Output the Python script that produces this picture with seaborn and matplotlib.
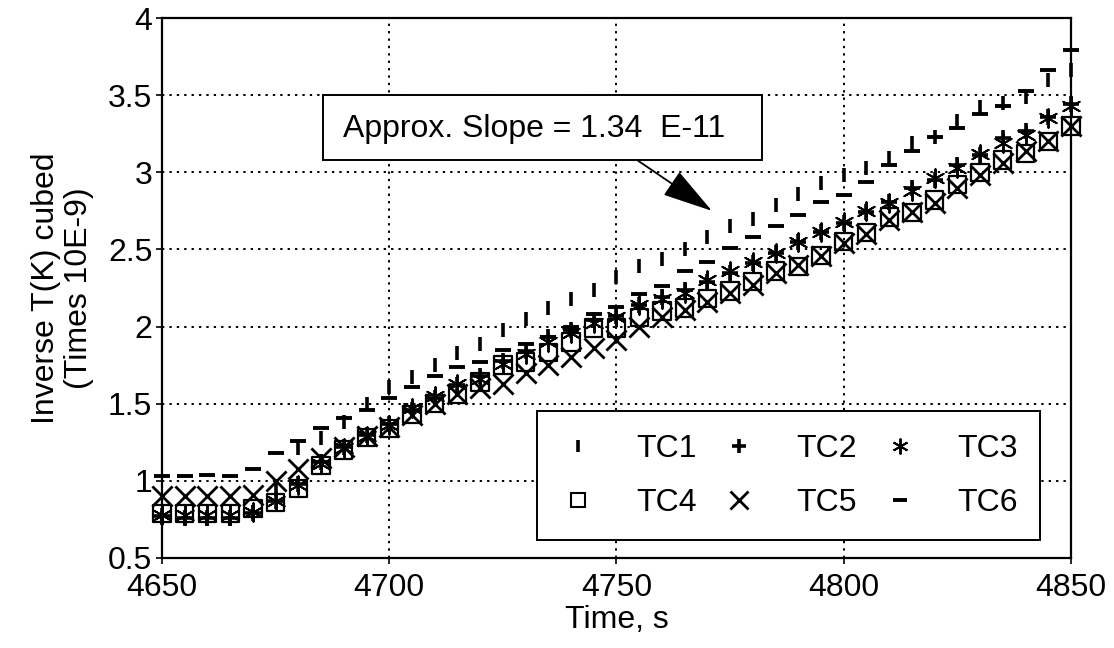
import matplotlib
matplotlib.use("Agg")
import matplotlib.pyplot as plt
from matplotlib.lines import Line2D
from matplotlib.patches import Rectangle
from matplotlib.ticker import FuncFormatter
import numpy as np
import pandas as pd
import seaborn as sns

# Sample times (s)
time = [4650, 4655, 4660, 4665, 4670, 4675, 4680, 4685, 4690, 4695,
        4700, 4705, 4710, 4715, 4720, 4725, 4730, 4735, 4740, 4745,
        4750, 4755, 4760, 4765, 4770, 4775, 4780, 4785, 4790, 4795,
        4800, 4805, 4810, 4815, 4820, 4825, 4830, 4835, 4840, 4845, 4850]

# Inverse cubed temperature (x 1e-9) per thermocouple
tc1 = [0.76, 0.76, 0.75, 0.75, 0.80, 0.95, 1.21, 1.28, 1.38, 1.50,
       1.61, 1.67, 1.75, 1.83, 1.89, 1.98, 2.05, 2.12, 2.18, 2.24,
       2.32, 2.39, 2.44, 2.50, 2.58, 2.65, 2.70, 2.79, 2.86, 2.93,
       2.98, 3.03, 3.09, 3.19, 3.23, 3.33, 3.42, 3.45, 3.49, 3.60, 3.66]
tc2 = [0.77, 0.76, 0.76, 0.76, 0.79, 0.87, 0.98, 1.12, 1.22, 1.30,
       1.37, 1.46, 1.54, 1.62, 1.68, 1.78, 1.84, 1.93, 1.98, 2.04,
       2.07, 2.14, 2.19, 2.24, 2.29, 2.35, 2.41, 2.48, 2.55, 2.61,
       2.67, 2.74, 2.81, 2.90, 2.95, 3.05, 3.11, 3.22, 3.27, 3.36, 3.44]
tc3 = [0.78, 0.78, 0.78, 0.78, 0.80, 0.87, 0.97, 1.11, 1.21, 1.29,
       1.36, 1.47, 1.55, 1.63, 1.66, 1.76, 1.82, 1.90, 1.96, 2.02,
       2.06, 2.14, 2.18, 2.22, 2.30, 2.36, 2.42, 2.48, 2.55, 2.61,
       2.68, 2.75, 2.80, 2.88, 2.96, 3.03, 3.12, 3.19, 3.24, 3.35, 3.43]
tc4 = [0.79, 0.79, 0.79, 0.79, 0.82, 0.86, 0.95, 1.10, 1.20, 1.28,
       1.34, 1.43, 1.50, 1.56, 1.64, 1.75, 1.77, 1.83, 1.90, 1.99,
       1.99, 2.06, 2.10, 2.12, 2.18, 2.23, 2.29, 2.36, 2.39, 2.46,
       2.55, 2.61, 2.71, 2.74, 2.82, 2.92, 3.00, 3.08, 3.12, 3.20, 3.30]
tc5 = [0.90, 0.90, 0.90, 0.90, 0.91, 1.00, 1.08, 1.15, 1.22, 1.29,
       1.35, 1.43, 1.50, 1.56, 1.60, 1.63, 1.70, 1.75, 1.80, 1.86,
       1.91, 2.00, 2.06, 2.11, 2.16, 2.22, 2.27, 2.35, 2.40, 2.46,
       2.54, 2.60, 2.69, 2.74, 2.80, 2.90, 2.98, 3.06, 3.14, 3.20, 3.30]
tc6 = [1.03, 1.03, 1.04, 1.03, 1.08, 1.18, 1.26, 1.34, 1.41, 1.46,
       1.54, 1.61, 1.68, 1.74, 1.77, 1.85, 1.89, 1.93, 2.00, 2.08,
       2.13, 2.21, 2.26, 2.36, 2.42, 2.51, 2.58, 2.65, 2.72, 2.81,
       2.85, 2.94, 3.05, 3.14, 3.23, 3.29, 3.38, 3.43, 3.53, 3.66, 3.79]

labels = ["TC1", "TC2", "TC3", "TC4", "TC5", "TC6"]
x_ticks = [4650, 4700, 4750, 4800, 4850]
y_ticks = [0.5, 1, 1.5, 2, 2.5, 3, 3.5, 4]
slope_text = "Approx. Slope = 1.34  E-11"

sns.set_style("ticks")
plt.rcParams["font.family"] = ["Liberation Sans", "DejaVu Sans"]
plt.rcParams["text.color"] = "black"
plt.rcParams["axes.labelcolor"] = "black"
plt.rcParams["xtick.color"] = "black"
plt.rcParams["ytick.color"] = "black"

FS = 23

df = pd.DataFrame({"time": time, "TC1": tc1, "TC2": tc2, "TC3": tc3,
                   "TC4": tc4, "TC5": tc5, "TC6": tc6})

fig = plt.figure(figsize=(11.14, 6.48), dpi=100)
ax = fig.add_axes([0.1454, 0.1389, 0.8160, 0.8333])

asterisk = (6, 2, 0)
styles = {
    "TC1": dict(marker="|", s=95, linewidth=2.6, color="black"),
    "TC2": dict(marker="+", s=130, linewidth=2.6, color="black"),
    "TC3": dict(marker=asterisk, s=180, linewidth=1.4, color="black"),
    "TC4": dict(marker="s", s=155, linewidth=1.6, facecolor="none", edgecolor="black"),
    "TC5": dict(marker="x", s=210, linewidth=2.0, color="black"),
    "TC6": dict(marker="_", s=130, linewidth=2.8, color="black"),
}
for name in ["TC4", "TC5", "TC2", "TC3", "TC6", "TC1"]:
    sns.scatterplot(data=df, x="time", y=name, ax=ax, legend=False,
                    zorder=3, clip_on=False, **styles[name])

ax.set_xlim(4650, 4850)
ax.set_ylim(0.5, 4)
ax.set_xticks(x_ticks)
ax.set_yticks(y_ticks)
ax.yaxis.set_major_formatter(FuncFormatter(lambda v, p: f"{v:g}"))
ax.tick_params(axis="both", labelsize=FS, direction="out", length=4, width=1.2)
ax.tick_params(axis="x", pad=7)
ax.tick_params(axis="y", pad=3)
ax.grid(True, color="black", linestyle=(0, (1.2, 2.6)), linewidth=1.4)
for sp in ax.spines.values():
    sp.set_linewidth(1.6)
    sp.set_color("black")

ax.set_xlabel("Time, s", fontsize=FS, labelpad=1)
ax.set_ylabel("Inverse T(K) cubed\n(Times 10E-9)", fontsize=FS, labelpad=10, linespacing=1.15)

# Slope annotation: framed text with an arrow pointing at the data
ax.add_patch(Rectangle((4685.4, 3.08), 96.6, 0.42, facecolor="white",
                       edgecolor="black", linewidth=1.4, zorder=5))
ax.text(4773.9, 3.28, slope_text, fontsize=FS, ha="right", va="center", zorder=6)
ax.annotate("", xy=(4771, 2.75), xytext=(4754.5, 3.08), zorder=6,
            arrowprops=dict(arrowstyle="-|>,head_length=3.2,head_width=0.9",
                            color="black", linewidth=1.3, shrinkA=0, shrinkB=0))

# Legend laid out row by row: TC1 TC2 TC3 / TC4 TC5 TC6
def handle(name):
    st = styles[name]
    ms = np.sqrt(st["s"])
    if name == "TC4":
        return Line2D([], [], linestyle="none", marker="s", markersize=ms * 0.85,
                      markerfacecolor="none", markeredgecolor="black", markeredgewidth=1.5)
    return Line2D([], [], linestyle="none", marker=st["marker"], markersize=ms * 0.85,
                  color="black", markeredgewidth=st["linewidth"])

order = ["TC1", "TC4", "TC2", "TC5", "TC3", "TC6"]
leg = ax.legend([handle(n) for n in order], order, loc="lower left",
                bbox_to_anchor=(0.4125, 0.033, 0.5535, 0.2355), mode="expand",
                borderaxespad=0, ncol=3, fontsize=FS, frameon=True, fancybox=False,
                edgecolor="black", framealpha=1, borderpad=0.7, labelspacing=0.75,
                handletextpad=1.2, columnspacing=1.0, handlelength=1.2)
leg.get_frame().set_linewidth(1.4)
leg.set_zorder(7)

fig.savefig("out.png", dpi=100)
